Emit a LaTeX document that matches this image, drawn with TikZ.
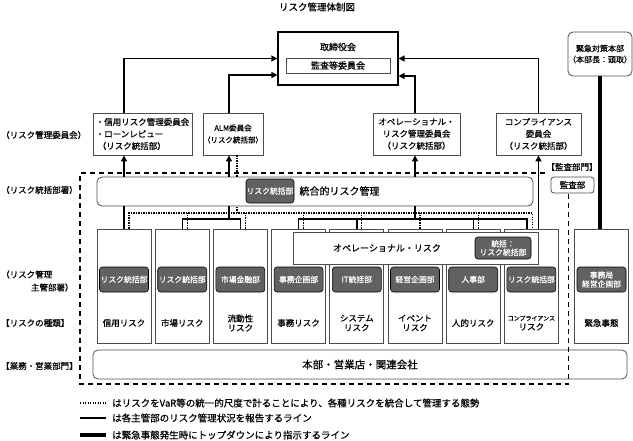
\documentclass[tikz,border=0pt]{standalone}
\usepackage{fontspec}
\setmainfont{Noto Sans CJK JP}[FakeBold=0.6]
\usetikzlibrary{arrows.meta,positioning}
\begin{document}
\begin{tikzpicture}[
   x=1pt,y=-1pt,
   font=\fontsize{9}{10}\selectfont,
   every node/.style={inner sep=0pt},
   box/.style={draw=black!70,line width=0.8pt,align=center},
   rbox/.style={box,rounded corners=5pt},
   col/.style={box,minimum width=54pt,minimum height=114pt},
   dept/.style={draw=black,line width=0.6pt,fill=black!62,text=white,rounded corners=3pt,align=center,minimum width=49pt,minimum height=25pt,font=\fontsize{7.8}{9}\selectfont},
   cmt/.style={box,minimum height=42pt,font=\fontsize{8.5}{12}\selectfont},
   risk/.style={align=center,font=\fontsize{8.5}{9.5}\selectfont},
   side/.style={anchor=west,align=left,font=\fontsize{8.5}{13}\selectfont},
   legend/.style={anchor=west,font=\fontsize{9.5}{11}\selectfont},
   rep/.style={line width=1.4pt},
   repto/.style={rep,-{Triangle[length=6pt,width=6pt]}},
   var/.style={line width=1.3pt,dash pattern=on 1.3pt off 1.2pt},
   bnd/.style={line width=1.5pt,dash pattern=on 5pt off 4pt},
   emg/.style={line width=4.5pt}]
\useasboundingbox (0,0) rectangle (633,440);
\node[font=\fontsize{9.5}{11}\selectfont] (title) at (317,7) {リスク管理体制図};
\node[box,draw=black,line width=1.2pt,minimum width=120pt,minimum height=53pt] (board) at (338,58.5) {};
\node (boardtxt) at (338,47) {取締役会};
\node[box,minimum width=104pt,minimum height=15pt] (audcom) at (338,65.5) {監査等委員会};
\node[rbox,minimum width=64pt,minimum height=44pt,font=\fontsize{8}{11}\selectfont] (hq) at (600,54) {緊急対策本部\\（本部長：頭取）};
\node[cmt,minimum width=99pt,align=left] (credit) at (142.5,134) {・信用リスク管理委員会\\・ローンレビュー\\\hspace*{2pt}（リスク統括部）};
\node[cmt,minimum width=60pt,font=\fontsize{7.5}{12}\selectfont] (alm) at (233,134) {ALM委員会\\（リスク統括部）};
\node[cmt,minimum width=87pt] (opcom) at (416.5,134) {オペレーショナル・\\リスク管理委員会\\（リスク統括部）};
\node[cmt,minimum width=85pt] (compcom) at (538.5,134) {コンプライアンス\\委員会\\（リスク統括部）};
\node[side] (s1) at (1,135) {（リスク管理委員会）};
\node[side] (s2) at (1,190) {（リスク統括部署）};
\node[side] (s3) at (1,281) {（リスク管理\\\hspace*{3.5em}主管部署）};
\node[side] (s4) at (1,323) {【リスクの種類】};
\node[side] (s5) at (1,366) {【業務・営業部門】};
\node[rbox,minimum width=436pt,minimum height=29pt] (irm) at (315,191.5) {};
\node[dept,minimum width=48pt,minimum height=24pt] (irmdept) at (270,191) {リスク統括部};
\node[right=5pt of irmdept,font=\fontsize{10}{12}\selectfont] (irmtxt) {統合的リスク管理};
\node[font=\fontsize{8.5}{10}\selectfont] (auditlbl) at (572,167) {【監査部門】};
\node[rbox,rounded corners=3pt,minimum width=43pt,minimum height=16pt,font=\fontsize{8.5}{10}\selectfont] (audit) at (572.5,185) {監査部};
\node[col] (c1) at (124,286) {};
\node[col] (c2) at (182.2,286) {};
\node[col] (c3) at (240.4,286) {};
\node[col] (c4) at (298.6,286) {};
\node[col] (c5) at (356.8,286) {};
\node[col] (c6) at (415,286) {};
\node[col] (c7) at (473.2,286) {};
\node[col] (c8) at (531.4,286) {};
\node[col] (c9) at (601.5,286) {};
\node[dept] (d1) at (124,279.5) {リスク統括部};
\node[dept] (d2) at (182.2,279.5) {リスク統括部};
\node[dept] (d3) at (240.4,279.5) {市場金融部};
\node[dept] (d4) at (298.6,279.5) {事務企画部};
\node[dept] (d5) at (356.8,279.5) {IT統括部};
\node[dept] (d6) at (415,279.5) {経営企画部};
\node[dept] (d7) at (473.2,279.5) {人事部};
\node[dept] (d8) at (531.4,279.5) {リスク統括部};
\node[dept] (d9) at (601.5,279.5) {事務局\\経営企画部};
\node[risk] (r1) at (124,323) {信用リスク};
\node[risk] (r2) at (182.2,323) {市場リスク};
\node[risk] (r3) at (240.4,323) {流動性\\リスク};
\node[risk] (r4) at (298.6,323) {事務リスク};
\node[risk] (r5) at (356.8,323) {システム\\リスク};
\node[risk] (r6) at (415,323) {イベント\\リスク};
\node[risk] (r7) at (473.2,323) {人的リスク};
\node[risk] (r8) at (531.4,323) {{\fontsize{6}{7}\selectfont コンプライアンス}\\リスク};
\node[risk] (r9) at (601.5,323) {緊急事態};
\node[box,fill=white,minimum width=245pt,minimum height=32pt] (op) at (415.5,248) {};
\node (optxt) at (387,248) {オペレーショナル・リスク};
\node[dept,minimum width=56pt,minimum height=22pt,font=\fontsize{7.8}{8.5}\selectfont] (opdept) at (503,248) {統括：\\リスク統括部};
\node[rbox,minimum width=534pt,minimum height=29pt,font=\fontsize{10.5}{12}\selectfont] (biz) at (360,364.5) {本部・営業店・関連会社};
\coordinate (j2) at (229,219);
\coordinate (j3) at (415,219);
\coordinate (v0) at (237,213);
\coordinate (bx1) at (80,173);
\coordinate (bx2) at (545,173);
\coordinate (bx3) at (80,384);
\draw[bnd] (bx2) -- (bx1) -- (bx3) -| ([xshift=-4pt]audit.south);
\draw[var] ([xshift=5pt]c1.north) |- ([xshift=1pt]c8.north |- v0) -- ([xshift=1pt]c8.north);
\draw[var] ([xshift=5pt]c2.north) -- ([xshift=5pt]c2.north |- v0);
\draw[var] ([xshift=5pt]c3.north) -- ([xshift=5pt]c3.north |- v0);
\draw[var] ([xshift=5pt]c4.north) -- ([xshift=5pt]c4.north |- v0);
\draw[var] ([xshift=5pt]c5.north) -- ([xshift=5pt]c5.north |- v0);
\draw[var] ([xshift=5pt]c6.north) -- ([xshift=5pt]c6.north |- v0);
\draw[var] ([xshift=5pt]c7.north) -- ([xshift=5pt]c7.north |- v0);
\draw[var] (v0) -- (v0 |- irm.south);
\draw[var] (v0 |- irm.north) -- (v0 |- alm.south);
\draw[rep] (c1.north) -- (c1.north |- irm.south);
\draw[repto] (c1.north |- irm.north) -- (c1.north |- credit.south);
\draw[repto] (c1.north |- credit.north) |- (board.west);
\draw[rep] (c2.north) |- (j2) -| (c3.north);
\draw[rep] (j2) -- (j2 |- irm.south);
\draw[repto] (j2 |- irm.north) -- (j2 |- alm.south);
\draw[repto] (j2 |- alm.north) |- ([yshift=-16.5pt]board.west);
\draw[rep] (c4.north) |- (j3) -| ([xshift=-4.5pt]c8.north);
\draw[rep] (c5.north) -- (c5.north |- j3);
\draw[rep] (c7.north) -- (c7.north |- j3);
\draw[rep] (j3) -- (j3 |- irm.south);
\draw[repto] (j3 |- irm.north) -- (j3 |- opcom.south);
\draw[repto] (j3 |- opcom.north) |- ([yshift=-17.5pt]board.east);
\draw[repto] (c8.north -| compcom.south) -- (compcom.south);
\draw[repto] (compcom.north) |- (board.east);
\draw[emg] (hq.south) -- (hq.south |- c9.north);
\node[legend] (l1) at (112,403) {はリスクをVaR等の統一的尺度で計ることにより、各種リスクを統合して管理する態勢};
\node[legend] (l2) at (112,418) {は各主管部のリスク管理状況を報告するライン};
\node[legend] (l3) at (112,435) {は緊急事態発生時にトップダウンにより指示するライン};
\draw[var] ([xshift=-32pt]l1.west) -- ([xshift=-6pt]l1.west);
\draw[rep] ([xshift=-32pt]l2.west) -- ([xshift=-6pt]l2.west);
\draw[emg] ([xshift=-32pt]l3.west) -- ([xshift=-6pt]l3.west);
\end{tikzpicture}
\end{document}
